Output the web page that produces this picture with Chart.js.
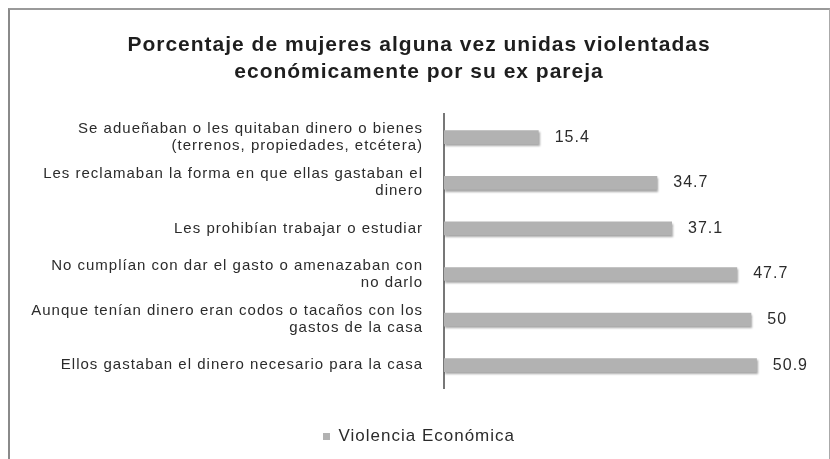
<!DOCTYPE html>
<html>
<head>
<meta charset="utf-8">
<script src="https://cdn.jsdelivr.net/npm/chart.js@4.4.1/dist/chart.umd.min.js"></script>
<style>
    html, body { margin: 0; padding: 0; background: #fff; }
    #wrap { position: relative; width: 830px; height: 459px; }
    #frame {
        position: absolute; left: 8px; top: 8px; width: 819px; height: 460px;
        border-left: 2px solid #8a8a8a; border-top: 2px solid #9a9a9a; border-right: 1px solid #aaa;
    }
    canvas { position: absolute; left: 0; top: 0; }
</style>
</head>
<body>
<div id="wrap">
    <div id="frame"></div>
    <canvas id="chart" width="830" height="459"></canvas>
</div>
<script>
// Chart data
const categories = [
    ['Se adueñaban o les quitaban dinero o bienes', '(terrenos, propiedades, etcétera)'],
    ['Les reclamaban la forma en que ellas gastaban el', 'dinero'],
    'Les prohibían trabajar o estudiar',
    ['No cumplían con dar el gasto o amenazaban con', 'no darlo'],
    ['Aunque tenían dinero eran codos o tacaños con los', 'gastos de la casa'],
    'Ellos gastaban el dinero necesario para la casa'
];
const values = [15.4, 34.7, 37.1, 47.7, 50, 50.9];
const seriesName = 'Violencia Económica';
const titleLines = ['Porcentaje de mujeres alguna vez unidas violentadas', 'económicamente por su ex pareja'];

const BAR_COLOR = '#b2b2b2';
const TEXT_COLOR = '#2b2b2b';
const FONT = "'Liberation Sans', Arial, sans-serif";

// The scanned original has wide, loosely spaced lettering
const letterSpacingPlugin = {
    id: 'letterSpacing',
    beforeUpdate: function(chart) { chart.ctx.letterSpacing = '1px'; },
    beforeDraw: function(chart) { chart.ctx.letterSpacing = '1px'; }
};

// Draw the value next to each bar
const valueLabelPlugin = {
    id: 'valueLabels',
    afterDatasetsDraw: function(chart) {
        const ctx = chart.ctx;
        const meta = chart.getDatasetMeta(0);
        ctx.save();
        ctx.font = '16px ' + FONT;
        ctx.fillStyle = TEXT_COLOR;
        ctx.textBaseline = 'middle';
        ctx.textAlign = 'left';
        meta.data.forEach((bar, i) => {
            ctx.fillText(String(values[i]), bar.x + 16, bar.y);
        });
        ctx.restore();
    }
};

// Soft shadow under bars, like the scanned original
const barShadowPlugin = {
    id: 'barShadow',
    beforeDatasetsDraw: function(chart) {
        const ctx = chart.ctx;
        ctx.save();
        ctx.shadowColor = 'rgba(0, 0, 0, 0.35)';
        ctx.shadowOffsetX = 1;
        ctx.shadowOffsetY = 2;
        ctx.shadowBlur = 2;
    },
    afterDatasetsDraw: function(chart) {
        chart.ctx.restore();
    }
};

new Chart(document.getElementById('chart'), {
    type: 'bar',
    data: {
        labels: categories,
        datasets: [{
            label: seriesName,
            data: values,
            backgroundColor: BAR_COLOR,
            borderWidth: 0,
            barPercentage: 0.3,
            categoryPercentage: 1
        }]
    },
    options: {
        indexAxis: 'y',
        responsive: false,
        animation: false,
        layout: {
            padding: { left: 8, right: 0, top: 0, bottom: 4 }
        },
        scales: {
            x: {
                display: false,
                min: 0,
                max: 62.8
            },
            y: {
                afterFit: function(scale) { scale.width = 436; },
                grid: { display: false },
                border: { display: true, color: '#777', width: 2 },
                ticks: {
                    padding: 13,
                    color: TEXT_COLOR,
                    font: { family: FONT, size: 15, lineHeight: 1.12 }
                }
            }
        },
        plugins: {
            title: {
                display: true,
                text: titleLines,
                color: '#1e1e1e',
                font: { family: FONT, size: 21, weight: 'bold', lineHeight: 1.27 },
                padding: { top: 32, bottom: 29 }
            },
            legend: {
                position: 'bottom',
                labels: {
                    boxWidth: 7,
                    boxHeight: 7,
                    padding: 40,
                    color: TEXT_COLOR,
                    font: { family: FONT, size: 17 }
                }
            },
            tooltip: { enabled: false }
        }
    },
    plugins: [letterSpacingPlugin, barShadowPlugin, valueLabelPlugin]
});
</script>
</body>
</html>
